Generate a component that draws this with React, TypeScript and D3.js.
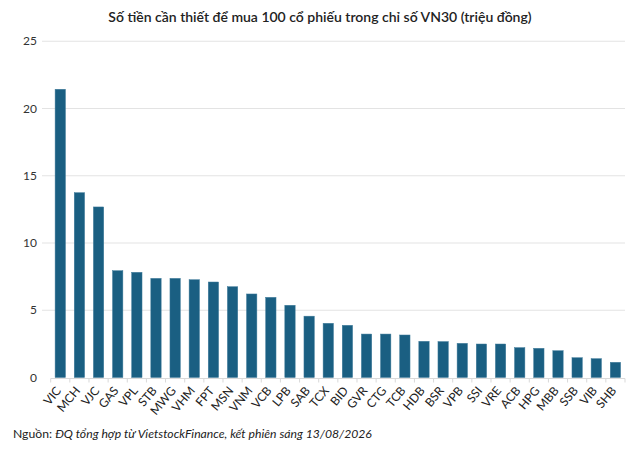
import React, { useEffect } from "react";
import * as d3 from "d3";

const categories = ["VIC","MCH","VJC","GAS","VPL","STB","MWG","VHM","FPT","MSN","VNM","VCB","LPB","SAB","TCX","BID","GVR","CTG","TCB","HDB","BSR","VPB","SSI","VRE","ACB","HPG","MBB","SSB","VIB","SHB"];
const values = [21.43,13.74,12.68,7.94,7.82,7.37,7.37,7.27,7.10,6.75,6.21,5.96,5.37,4.56,4.03,3.88,3.23,3.23,3.16,2.69,2.67,2.54,2.49,2.49,2.22,2.17,1.99,1.47,1.40,1.13];
const yTicks = [0,5,10,15,20,25];
const title = "Số tiền cần thiết để mua 100 cổ phiếu trong chỉ số VN30 (triệu đồng)";

const W = 640, H = 449;
const left = 50.7, right = 625, top = 41.25, bottom = 377.5;

export default function App() {
  useEffect(() => { document.body.style.margin = "0"; }, []);
  const x = d3.scaleBand<string>().domain(categories).range([left, right]).paddingInner(0.46).paddingOuter(0.23);
  const xe = d3.scaleBand<string>().domain(categories).range([left, right]);
  const y = d3.scaleLinear().domain([0, 25]).range([bottom, top]);
  const font = "Lato, 'Noto Sans', sans-serif";
  return (
    <svg width={W} height={H} style={{ display: "block", background: "#fff", fontFamily: font }}>
      <text x={320} y={22} textAnchor="middle" fontSize={14} fontWeight={600} fill="#222">{title}</text>
      {yTicks.map(t => (
        <g key={t}>
          {t > 0 && <line x1={42} x2={right} y1={y(t)} y2={y(t)} stroke="#e3e3e3" strokeWidth={1} />}
          <text x={37} y={y(t)} dy="0.35em" textAnchor="end" fontSize={12} fill="#333">{t}</text>
        </g>
      ))}
      {categories.map((c, i) => (
        <rect key={c} x={x(c)} y={y(values[i])} width={x.bandwidth()} height={y(0) - y(values[i])} fill="#1a5f82" stroke="#3e7b9a" strokeWidth={0.5} />
      ))}
      <line x1={left} x2={right} y1={y(0) + 1} y2={y(0) + 1} stroke="#d9d9d9" strokeWidth={1} />
      {[...categories.map(c => xe(c) as number), right].map((xx, i) => (
        <line key={i} x1={xx} x2={xx} y1={y(0) + 1} y2={y(0) + 5} stroke="#d9d9d9" strokeWidth={1} />
      ))}
      {categories.map(c => {
        const cx = (xe(c) as number) + xe.bandwidth() / 2 + 1.5;
        const cy = 391;
        return (
          <text key={c} transform={`translate(${cx},${cy}) rotate(-50)`} textAnchor="end" fontSize={12} fill="#222">{c}</text>
        );
      })}
      <text x={13} y={438} fontSize={12.2} fill="#222">
        Nguồn: <tspan fontStyle="italic">ĐQ tổng hợp từ VietstockFinance, kết phiên sáng 13/08/2026</tspan>
      </text>
    </svg>
  );
}
